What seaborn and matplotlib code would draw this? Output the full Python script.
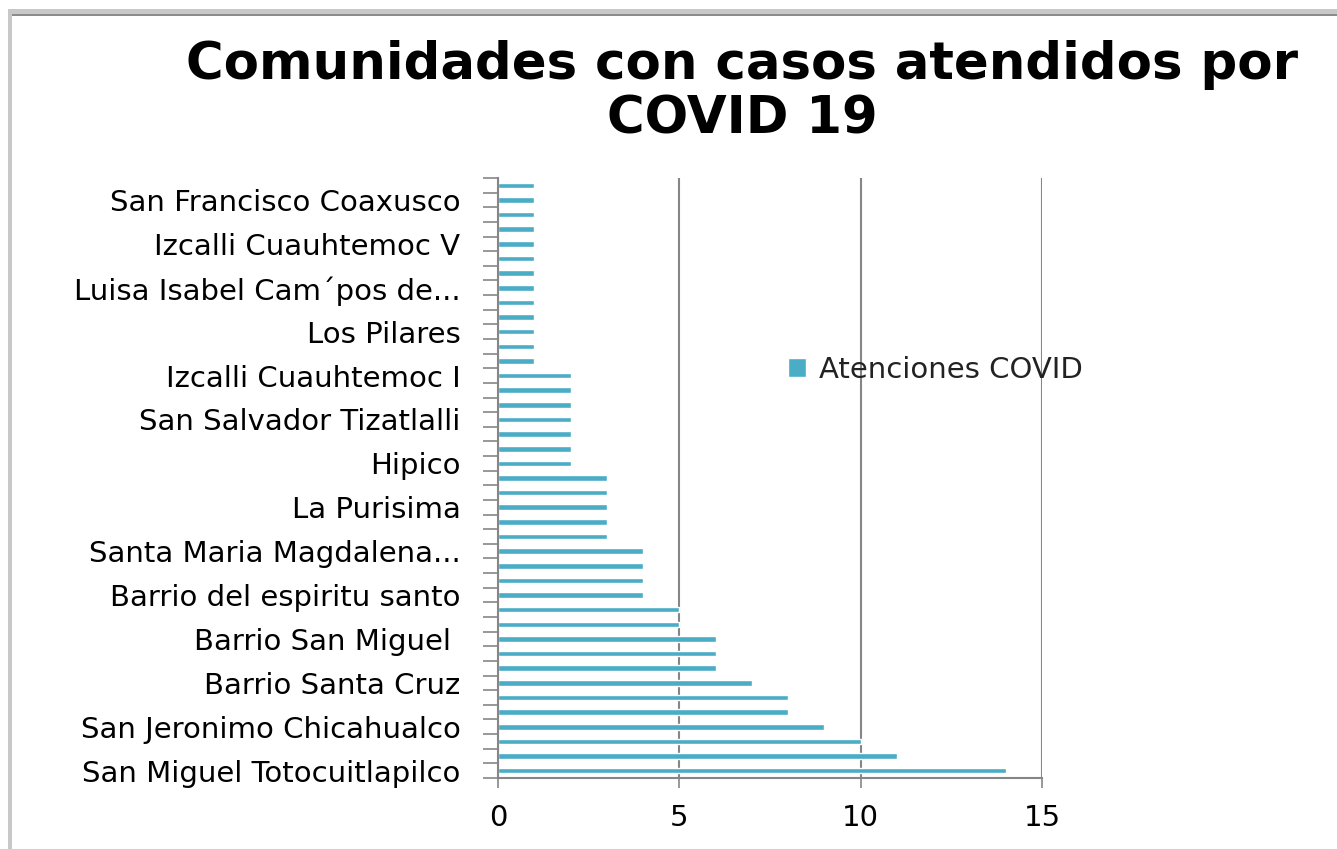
import numpy as np
import matplotlib
matplotlib.use("Agg")
import matplotlib.pyplot as plt
from matplotlib.patches import Rectangle
import seaborn as sns

# Attended COVID cases per community, listed from the bottom bar upwards
values = [14, 11, 10, 9, 8, 8, 7, 6, 6, 6, 5, 5, 4, 4, 4, 4,
          3, 3, 3, 3, 3, 2, 2, 2, 2, 2, 2, 2,
          1, 1, 1, 1, 1, 1, 1, 1, 1, 1, 1, 1, 1]

# Category labels shown on the axis (every third community)
tick_labels = [
    "San Miguel Totocuitlapilco",
    "San Jeronimo Chicahualco",
    "Barrio Santa Cruz",
    "Barrio San Miguel ",
    "Barrio del espiritu santo",
    "Santa Maria Magdalena...",
    "La Purisima",
    "Hipico",
    "San Salvador Tizatlalli",
    "Izcalli Cuauhtemoc I",
    "Los Pilares",
    "Luisa Isabel Cam\u00b4pos de...",
    "Izcalli Cuauhtemoc V",
    "San Francisco Coaxusco",
]
label_step = 3
series_name = "Atenciones COVID"
x_ticks = [0, 5, 10, 15]

BAR = "#4BACC6"
AXIS = "#868686"

sns.set_theme(style="white")
plt.rcParams["font.family"] = ["DejaVu Sans"]

W, H = 1337, 849
fig = plt.figure(figsize=(W / 100, H / 100), dpi=100)
fig.patch.set_facecolor("white")

ax = fig.add_axes([498 / W, (H - 778) / H, (1042 - 498) / W, (778 - 178) / H])

positions = np.arange(len(values))
sns.barplot(x=values, y=positions, orient="h", native_scale=True,
            color=BAR, saturation=1, width=0.38, label=series_name, ax=ax)

ax.set_xlim(0, 15)
ax.set_ylim(-0.5, len(values) - 0.5)

# category axis: ticks on every boundary, labels on every third category
ax.set_yticks(positions[::label_step])
ax.set_yticklabels(tick_labels, fontsize=21, color="black")
ax.set_yticks(np.arange(-0.5, len(values), 1), minor=True)
ax.tick_params(axis="y", which="major", length=0, pad=27)
ax.tick_params(axis="y", which="minor", length=10.8, width=1.2,
               color=AXIS, direction="out", left=True)

# value axis
ax.set_xticks(x_ticks)
ax.set_xticklabels([str(t) for t in x_ticks], fontsize=21, color="black")
ax.tick_params(axis="x", which="major", length=7, width=1.2, color=AXIS,
               direction="out", bottom=True, pad=12)
ax.xaxis.grid(True, color=AXIS, linewidth=1.5)
ax.yaxis.grid(False)
ax.set_axisbelow(True)
ax.set_xlabel("")
ax.set_ylabel("")

for side in ("top", "right"):
    ax.spines[side].set_visible(False)
for side in ("left", "bottom"):
    ax.spines[side].set_color(AXIS)
    ax.spines[side].set_linewidth(1.5)

leg = ax.legend(loc="center left", bbox_to_anchor=(788 / W, 1 - 370 / H),
                bbox_transform=fig.transFigure, frameon=False,
                fontsize=21, borderpad=0, borderaxespad=0,
                handlelength=0.62, handleheight=0.62, handletextpad=0.45)
for t in leg.get_texts():
    t.set_color("#222222")

fig.text(742 / W, 1 - 40 / H,
         "Comunidades con casos atendidos por\nCOVID 19",
         ha="center", va="top", fontsize=37, fontweight="bold",
         color="black", linespacing=1.12)

# chart frame
fig.add_artist(Rectangle((8 / W, 0), 4 / W, (H - 9) / H,
                         transform=fig.transFigure, color="#c8c8c8", lw=0))
fig.add_artist(Rectangle((8 / W, 1 - 14 / H), 1, 5 / H,
                         transform=fig.transFigure, color="#c8c8c8", lw=0))
fig.add_artist(Rectangle((12 / W, 1 - 16 / H), 1, 2 / H,
                         transform=fig.transFigure, color="#8c8c8c", lw=0))

fig.savefig("out.png", dpi=100)
